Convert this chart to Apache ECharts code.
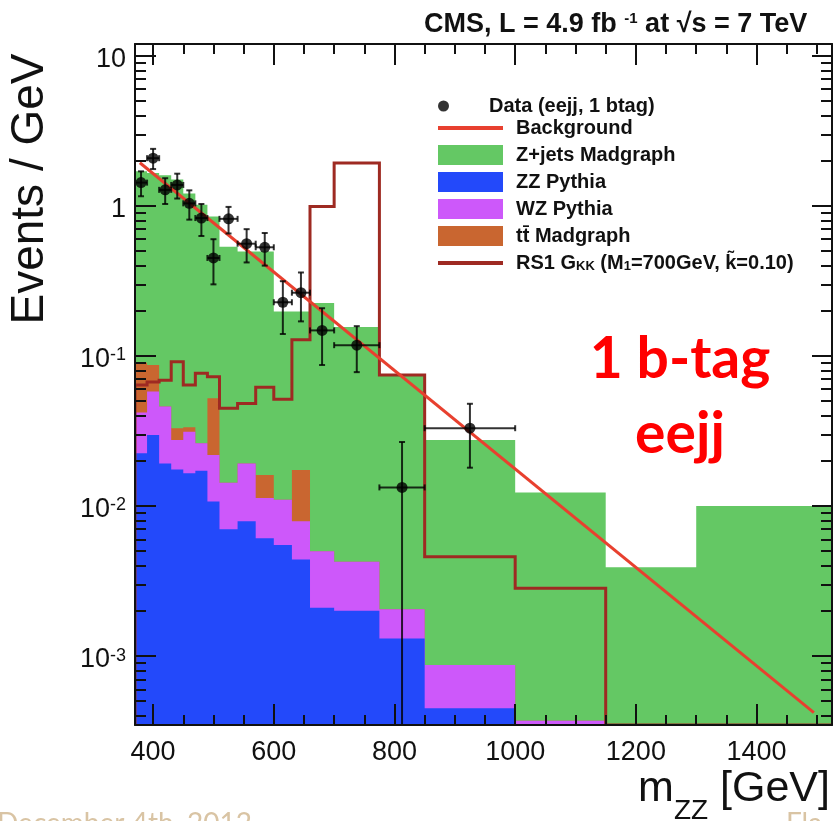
<!DOCTYPE html>
<html>
<head>
<meta charset="utf-8">
<title>m_ZZ eejj 1 b-tag</title>
<script src="https://cdn.jsdelivr.net/npm/echarts@6.0.0/dist/echarts.min.js"></script>
<style>
html,body{margin:0;padding:0;background:#ffffff;}
#chart{width:833px;height:821px;}
</style>
</head>
<body>
<div id="chart"></div>
<script>
// ---------------- data (Events / GeV) ----------------
const binEdges = [370,390,410,430,450,470,490,510,540,570,600,630,660,700,775,850,1000,1150,1300,1600];
const zzPythia      = [0.0225,0.0297,0.0192,0.0175,0.0165,0.0172,0.0107,0.0070,0.0079,0.0061,0.0055,0.0044,0.0021,0.0020,0.00131,0.000448,0,0,0];
const wzPythia      = [0.0195,0.0283,0.0268,0.0100,0.0148,0.0090,0.0112,0.0073,0.0113,0.0052,0.0055,0.0035,0.0029,0.00225,0.00074,0.000422,0.00037,0,0];
const ttMadgraph    = [0.048,0.029,0,0.0055,0.0022,0,0.0303,0,0,0.0048,0,0.0095,0,0,0,0,0,0,0];
const zjetsMadgraph = [1.61,1.573,1.554,1.467,1.1765,0.9938,0.7978,0.5207,0.4768,0.4799,0.187,0.1806,0.22,0.15175,0.07195,0.02663,0.01193,0.0039,0.0100];
const rs1Gkk        = [0.064,0.067,0.069,0.0916,0.064,0.0767,0.0728,0.0448,0.0483,0.0618,0.0514,0.128,0.99,1.93,0.0747,0.00459,0.00283,0,0];

const dataValues  = [1.43,2.08,1.28,1.38,1.04,0.83,0.45,0.82,0.56,0.53,0.228,0.264,0.148,0.118,0.0133,0.033];
const dataErrLow  = [1.16,1.76,1.03,1.12,0.81,0.63,0.30,0.655,0.42,0.40,0.14,0.17,0.087,0.078,0,0.018];
const dataErrHigh = [1.70,2.40,1.53,1.64,1.27,1.03,0.60,0.985,0.70,0.66,0.315,0.36,0.208,0.158,0.0267,0.048];

const backgroundFitX = [378, 1495];
const backgroundFitY = [1.94, 0.00042];

// ---------------- axes / ticks ----------------
const X_MIN = 370, X_MAX = 1525;
const Y_MIN = 3.47e-4, Y_MAX = 12.0;
const xMajorTicks = [400,600,800,1000,1200,1400];
const xMinorTicks = [400,450,500,550,600,650,700,750,800,850,900,950,1000,1050,1100,1150,1200,1250,1300,1350,1400,1450,1500];
const yMajorTicks = [0.001,0.01,0.1,1,10];
const yMinorTicks = [0.0004,0.0005,0.0006,0.0007,0.0008,0.0009,
                     0.002,0.003,0.004,0.005,0.006,0.007,0.008,0.009,
                     0.02,0.03,0.04,0.05,0.06,0.07,0.08,0.09,
                     0.2,0.3,0.4,0.5,0.6,0.7,0.8,0.9,
                     2,3,4,5,6,7,8,9];

const FONT = '"Liberation Sans", Arial, Helvetica, sans-serif';
const INK = '#111111';
const C_ZJETS = '#64C864', C_ZZ = '#2349FA', C_WZ = '#CD58FA', C_TT = '#C96630';
const C_BKG = '#E8402F', C_RS1 = '#9E2A22';

const NAME_DATA = 'Data (eejj, 1 btag)';
const NAME_BKG = 'Background';
const NAME_ZJ = 'Z+jets Madgraph';
const NAME_ZZ = 'ZZ Pythia';
const NAME_WZ = 'WZ Pythia';
const NAME_TT = 'tt\u0304 Madgraph';
const NAME_RS1 = 'RS1 G_KK (M_1=700GeV, k=0.10)';

// cumulative stack: ZZ, +WZ, +tt, +Z+jets
const cumZZ = zzPythia.slice();
const cumWZ = cumZZ.map((v, i) => v + wzPythia[i]);
const cumTT = cumWZ.map((v, i) => v + ttMadgraph[i]);
const cumAll = cumTT.map((v, i) => v + zjetsMadgraph[i]);

function clampY(v) { return v > Y_MIN ? v : Y_MIN; }

function layerSeries(name, tops, own, color, z) {
  return {
    type: 'custom', name: name, z: z, clip: true,
    xAxisIndex: 0, yAxisIndex: 0,
    itemStyle: { color: color },
    data: [[X_MIN, Y_MIN]],
    renderItem: function (params, api) {
      const pts = [api.coord([binEdges[0], Y_MIN])];
      for (let i = 0; i < tops.length; i++) {
        const v = own[i] > 0 ? clampY(tops[i]) : Y_MIN;
        pts.push(api.coord([binEdges[i], v]));
        pts.push(api.coord([binEdges[i + 1], v]));
      }
      pts.push(api.coord([binEdges[binEdges.length - 1], Y_MIN]));
      return { type: 'polygon', shape: { points: pts }, style: { fill: color } };
    }
  };
}

const dataCenters = dataValues.map((v, i) => (binEdges[i] + binEdges[i + 1]) / 2);
const errorItems = dataValues.map((v, i) => [dataCenters[i], v, dataErrLow[i], dataErrHigh[i], binEdges[i], binEdges[i + 1]]);

const chart = echarts.init(document.getElementById('chart'), null, { renderer: 'canvas' });

function tickAxis(pos, values, len, extra) {
  return Object.assign({
    type: 'value', position: pos, min: X_MIN, max: X_MAX, z: 10,
    axisLine: { show: false, onZero: false },
    axisTick: { show: true, inside: true, length: len, customValues: values, lineStyle: { color: INK, width: 2 } },
    axisLabel: { show: false }, splitLine: { show: false }
  }, extra || {});
}
const LY_MIN = Math.log10(Y_MIN), LY_MAX = Math.log10(Y_MAX);
function yTickAxis(pos, values, len, extra) {
  return Object.assign({
    type: 'value', position: pos, min: LY_MIN, max: LY_MAX, z: 10,
    axisLine: { show: false, onZero: false },
    axisTick: { show: true, inside: true, length: len, customValues: values.map(Math.log10), lineStyle: { color: INK, width: 2 } },
    axisLabel: { show: false }, splitLine: { show: false }
  }, extra || {});
}

const legendText = {
  color: INK, fontFamily: FONT, fontWeight: 'bold', fontSize: 20, lineHeight: 20,
  padding: [0, 0, 0, 8],
  rich: {
    sub: { fontFamily: FONT, fontWeight: 'bold', fontSize: 13, color: INK, verticalAlign: 'bottom', lineHeight: 20 }
  }
};
const LINE_ICON = 'path://M0,0H65V4H0Z';

const option = {
  animation: false,
  backgroundColor: '#ffffff',
  grid: { left: 135, right: 1, top: 44, bottom: 96, containLabel: false },
  title: [
    {
      text: 'CMS, L = 4.9 fb {sup|-1} at \u221As = 7 TeV',
      left: 424, top: 11, padding: 0,
      textStyle: {
        color: INK, fontFamily: FONT, fontWeight: 'bold', fontSize: 27, lineHeight: 28,
        rich: { sup: { fontFamily: FONT, fontWeight: 'bold', fontSize: 15, color: INK, verticalAlign: 'top', lineHeight: 28 } }
      }
    },
    {
      text: '1 b-tag\neejj',
      left: 680, top: 322, padding: 0, textAlign: 'center',
      textStyle: { color: '#FF0000', fontFamily: 'Lato, "Open Sans", sans-serif', fontWeight: 'bold', fontSize: 57, lineHeight: 75 }
    }
  ],
  legend: [
    {
      data: [{ name: NAME_DATA, icon: 'circle' }],
      orient: 'vertical', left: 438, top: 96, padding: 0,
      itemWidth: 65, itemHeight: 11, selectedMode: false,
      textStyle: legendText
    },
    {
      data: [
        { name: NAME_BKG, icon: LINE_ICON },
        { name: NAME_ZJ, icon: 'rect' },
        { name: NAME_ZZ, icon: 'rect' },
        { name: NAME_WZ, icon: 'rect' },
        { name: NAME_TT, icon: 'rect' },
        { name: NAME_RS1, icon: LINE_ICON }
      ],
      orient: 'vertical', left: 438, top: 118, padding: 0,
      itemWidth: 65, itemHeight: 20, itemGap: 7, selectedMode: false,
      textStyle: legendText,
      formatter: function (name) {
        if (name === NAME_RS1) return 'RS1 G{sub|KK} (M{sub|1}=700GeV, k\u0303=0.10)';
        return name;
      }
    }
  ],
  xAxis: [
    {
      type: 'value', position: 'bottom', min: X_MIN, max: X_MAX, z: 10,
      axisLine: { show: true, onZero: false, lineStyle: { color: INK, width: 2 } },
      axisTick: { show: true, inside: true, length: 21, customValues: xMajorTicks, lineStyle: { color: INK, width: 2 } },
      axisLabel: {
        show: true, customValues: xMajorTicks, margin: 14, color: INK, fontFamily: FONT, fontSize: 27,
        formatter: function (v) { return String(Math.round(v)); }
      },
      splitLine: { show: false }
    },
    tickAxis('bottom', xMinorTicks, 10),
    tickAxis('top', xMajorTicks, 21, { axisLine: { show: true, onZero: false, lineStyle: { color: INK, width: 2 } } }),
    tickAxis('top', xMinorTicks, 10)
  ],
  yAxis: [
    {
      type: 'log', logBase: 10, position: 'left', min: Y_MIN, max: Y_MAX, z: 10,
      axisLine: { show: true, onZero: false, lineStyle: { color: INK, width: 2 } },
      axisTick: { show: false }, axisLabel: { show: false }, splitLine: { show: false }
    },
    yTickAxis('left', yMajorTicks, 21, {
      axisLabel: {
        show: true, customValues: yMajorTicks.map(Math.log10), margin: 9, color: INK, fontFamily: FONT, fontSize: 27,
        padding: [8, 0, 0, 0],
        formatter: function (v) {
          const e = Math.round(v);
          if (e === 0) return '1';
          if (e === 1) return '10';
          return '10{sup|' + e + '}';
        },
        rich: { sup: { fontFamily: FONT, fontSize: 18, color: INK, verticalAlign: 'top' } }
      }
    }),
    yTickAxis('left', yMinorTicks, 11),
    yTickAxis('right', yMajorTicks, 20, { axisLine: { show: true, onZero: false, lineStyle: { color: INK, width: 2 } } }),
    yTickAxis('right', yMinorTicks, 11)
  ],
  graphic: [
    {
      type: 'text', x: 30, y: 189, rotation: Math.PI / 2, z: 20,
      style: { text: 'Events / GeV', fill: INK, font: '46px ' + FONT, textAlign: 'center', textVerticalAlign: 'middle' }
    },
    {
      type: 'text', right: 3, top: 768, z: 20,
      style: {
        text: 'm{sub|ZZ} [GeV]', fill: INK, font: '43px ' + FONT,
        rich: { sub: { fontSize: 28, fontFamily: FONT, fill: INK, verticalAlign: 'bottom', padding: [0, 0, -14, 0] } }
      }
    },
    {
      type: 'text', left: -3, top: 810, z: 20,
      style: { text: 'December 4th, 2012', fill: '#D9C4A4', font: '28px Lato, sans-serif' }
    },
    {
      type: 'text', left: 786, top: 810, z: 20,
      style: { text: 'Fla', fill: '#D9C4A4', font: '28px Lato, sans-serif' }
    }
  ],
  series: [
    layerSeries(NAME_ZJ, cumAll, cumAll, C_ZJETS, 1),
    layerSeries(NAME_TT, cumTT, cumTT, C_TT, 2),
    layerSeries(NAME_WZ, cumWZ, cumWZ, C_WZ, 3),
    layerSeries(NAME_ZZ, cumZZ, zzPythia, C_ZZ, 4),
    {
      type: 'custom', name: NAME_RS1, z: 5, clip: true,
      itemStyle: { color: C_RS1 },
      data: [[X_MIN, Y_MIN]],
      renderItem: function (params, api) {
        const pts = [api.coord([binEdges[0], Y_MIN])];
        for (let i = 0; i < rs1Gkk.length; i++) {
          const v = clampY(rs1Gkk[i]);
          pts.push(api.coord([binEdges[i], v]));
          pts.push(api.coord([binEdges[i + 1], v]));
        }
        pts.push(api.coord([binEdges[binEdges.length - 1], Y_MIN]));
        return { type: 'polyline', shape: { points: pts }, style: { stroke: C_RS1, lineWidth: 3, fill: null } };
      }
    },
    {
      type: 'line', name: NAME_BKG, z: 6,
      data: backgroundFitX.map((x, i) => [x, backgroundFitY[i]]),
      symbol: 'none', showSymbol: false,
      itemStyle: { color: C_BKG },
      lineStyle: { color: C_BKG, width: 3 }
    },
    {
      type: 'custom', name: 'dataErrors', z: 7, clip: true,
      encode: { x: [0, 4, 5], y: [1, 2, 3] },
      data: errorItems,
      renderItem: function (params, api) {
        const xc = api.value(0), v = api.value(1), lo = api.value(2), hi = api.value(3);
        const xl = api.value(4), xh = api.value(5);
        const pLo = api.coord([xc, clampY(lo)]);
        const pHi = api.coord([xc, hi]);
        const pL = api.coord([xl, v]);
        const pR = api.coord([xh, v]);
        const st = { stroke: 'rgba(0,0,0,0.8)', lineWidth: 2 };
        const c = 3;
        return {
          type: 'group',
          children: [
            { type: 'line', shape: { x1: pLo[0], y1: pLo[1], x2: pHi[0], y2: pHi[1] }, style: st },
            { type: 'line', shape: { x1: pL[0], y1: pL[1], x2: pR[0], y2: pR[1] }, style: st },
            { type: 'line', shape: { x1: pHi[0] - c, y1: pHi[1], x2: pHi[0] + c, y2: pHi[1] }, style: st },
            { type: 'line', shape: { x1: pLo[0] - c, y1: pLo[1], x2: pLo[0] + c, y2: pLo[1] }, style: st },
            { type: 'line', shape: { x1: pL[0], y1: pL[1] - c, x2: pL[0], y2: pL[1] + c }, style: st },
            { type: 'line', shape: { x1: pR[0], y1: pR[1] - c, x2: pR[0], y2: pR[1] + c }, style: st }
          ]
        };
      }
    },
    {
      type: 'scatter', name: NAME_DATA, z: 8,
      symbol: 'circle', symbolSize: 11,
      itemStyle: { color: '#000000' },
      data: dataCenters.map((x, i) => [x, dataValues[i]])
    }
  ]
};
chart.setOption(option);
</script>
</body>
</html>
